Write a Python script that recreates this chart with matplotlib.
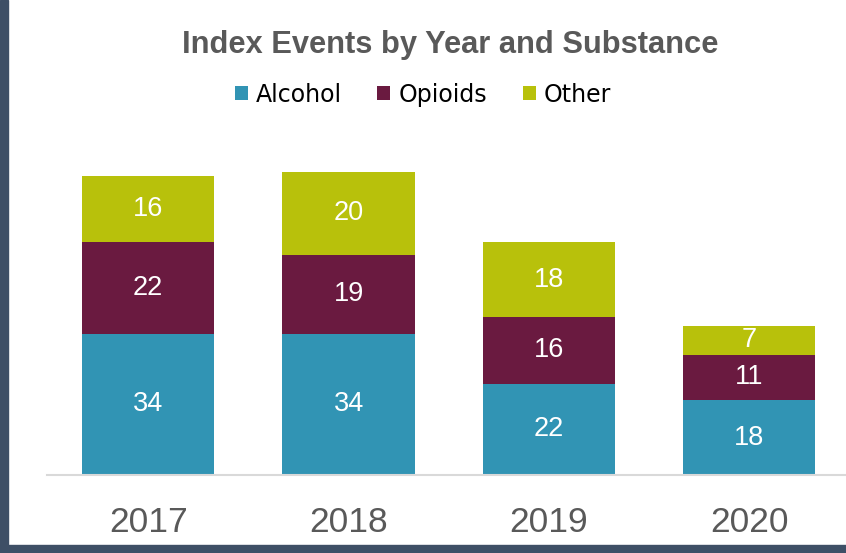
import matplotlib.pyplot as plt
from matplotlib.patches import Rectangle

years = ["2017", "2018", "2019", "2020"]
alcohol = [34, 34, 22, 18]
opioids = [22, 19, 16, 11]
other = [16, 20, 18, 7]

series = [("Alcohol", alcohol, "#3194B4"),
          ("Opioids", opioids, "#6A1A40"),
          ("Other", other, "#B8C10B")]

fig = plt.figure(figsize=(8.46, 5.53), dpi=100)
ax = fig.add_axes([0.0556, 0.1410, 0.9497, 0.6008])

x = list(range(len(years)))
bottom = [0] * len(years)
for name, vals, color in series:
    bars = ax.bar(x, vals, width=0.66, bottom=bottom, color=color, label=name)
    ax.bar_label(bars, labels=[str(v) for v in vals], label_type="center",
                 color="white", fontsize=19.5, family="Liberation Sans")
    bottom = [b + v for b, v in zip(bottom, vals)]

ax.set_xlim(-0.505, 3.505)
ax.set_ylim(0, 80)
ax.set_xticks(x)
ax.set_xticklabels(years, fontsize=25.5, color="#595959", family="Liberation Sans")
ax.tick_params(axis="x", length=0, pad=22)
ax.set_yticks([])
for s in ["top", "right", "left"]:
    ax.spines[s].set_visible(False)
ax.spines["bottom"].set_color("#D9D9D9")
ax.spines["bottom"].set_linewidth(1.5)

fig.text(0.532, 0.919, "Index Events by Year and Substance", ha="center", va="center",
         fontsize=22.2, fontweight="bold", color="#595959", family="Liberation Sans")

fig.legend(loc="center", bbox_to_anchor=(0.5, 0.829), ncol=3, frameon=False,
           prop={"family": "DejaVu Sans", "size": 17}, handlelength=0.55,
           handleheight=0.55, handletextpad=0.35, columnspacing=1.5)

# dark frame on the left and bottom
fig.patches.append(Rectangle((0, 0), 8 / 846, 1, transform=fig.transFigure,
                             color="#3E4F66", zorder=10))
fig.patches.append(Rectangle((0, 0), 1, 8 / 553, transform=fig.transFigure,
                             color="#3E4F66", zorder=10))

fig.savefig("out.png", dpi=100)
